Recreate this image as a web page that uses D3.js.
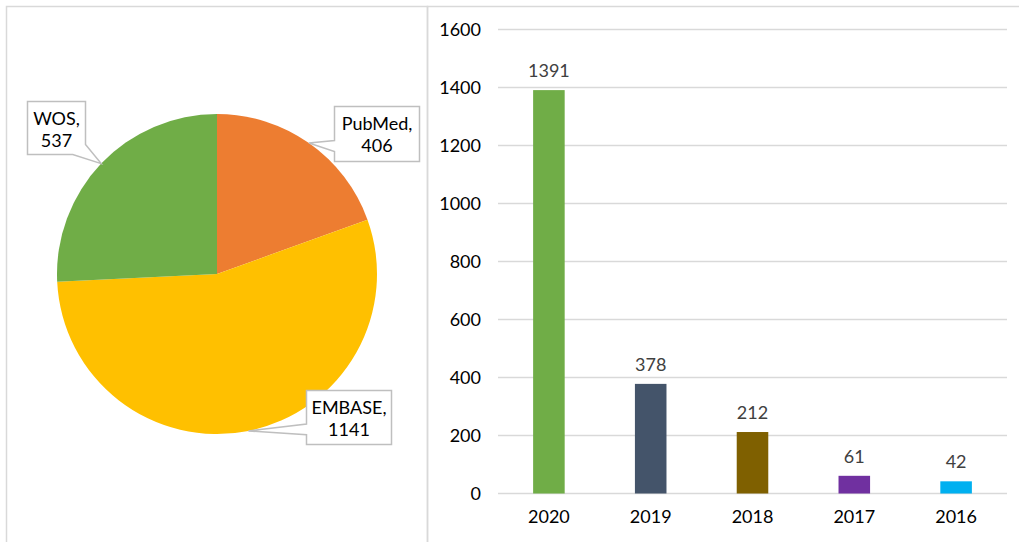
<!DOCTYPE html>
<html>
<head>
<meta charset="utf-8">
<script src="https://cdn.jsdelivr.net/npm/d3@7"></script>
<style>
	body { margin: 0; background: #fff; }
	svg { display: block; font-family: Lato, "Open Sans", sans-serif; }
</style>
</head>
<body>
<svg width="1019" height="542"></svg>
<script>
// pie data
var sources = ['PubMed', 'EMBASE', 'WOS'];
var sourceCounts = [406, 1141, 537];
var sourceColors = ['#ED7D31', '#FFC000', '#70AD47'];

// bar data
var years = ['2020', '2019', '2018', '2017', '2016'];
var yearCounts = [1391, 378, 212, 61, 42];
var yearColors = ['#70AD47', '#44546A', '#7F6000', '#7030A0', '#00B0F0'];
var yTicks = [0, 200, 400, 600, 800, 1000, 1200, 1400, 1600];

var svg = d3.select('svg');
var fontSize = 18;

// panel frames
svg.append('rect').attr('x', 6.5).attr('y', 6.5).attr('width', 421).attr('height', 600)
	.attr('fill', 'none').attr('stroke', '#d9d9d9').attr('stroke-width', 1.5);
svg.append('rect').attr('x', 427.5).attr('y', 6.5).attr('width', 620).attr('height', 600)
	.attr('fill', 'none').attr('stroke', '#d9d9d9').attr('stroke-width', 1.5);

// ---- pie ----
var cx = 217, cy = 274, r = 160;
var pieData = sources.map(function(s, i) {
	return {name: s, value: sourceCounts[i], color: sourceColors[i]};
});
var pie = d3.pie().sort(null).value(function(d) { return d.value; });
var arc = d3.arc().innerRadius(0).outerRadius(r);
var arcs = pie(pieData);

var gp = svg.append('g').attr('transform', 'translate(' + cx + ',' + cy + ')');
gp.selectAll('path.slice')
	.data(arcs)
	.enter().append('path')
	.attr('class', 'slice')
	.attr('d', arc)
	.attr('fill', function(d) { return d.data.color; });

// callout boxes (absolute page coords), tail side
var boxes = {
	WOS: {x: 27.5, y: 101.5, w: 58, h: 53, side: 'bottom'},
	PubMed: {x: 334.5, y: 106.5, w: 85, h: 55, side: 'left'},
	EMBASE: {x: 306.5, y: 390.5, w: 85, h: 54, side: 'left'}
};

arcs.forEach(function(a) {
	var b = boxes[a.data.name];
	var mid = (a.startAngle + a.endAngle) / 2;
	var px = cx + Math.sin(mid) * r;
	var py = cy - Math.cos(mid) * r;
	var pts;
	if (b.side === 'left') {
		var t1 = b.y + b.h * 0.62, t2 = b.y + b.h * 0.82;
		pts = [[b.x, b.y], [b.x + b.w, b.y], [b.x + b.w, b.y + b.h], [b.x, b.y + b.h],
			[b.x, t2], [px, py], [b.x, t1]];
	} else {
		var s1 = b.x + b.w * 0.78;
		pts = [[b.x, b.y], [b.x + b.w, b.y], [b.x + b.w, b.y + b.h - 10],
			[px, py], [s1, b.y + b.h], [b.x, b.y + b.h]];
	}
	svg.append('path')
		.attr('d', 'M' + pts.map(function(p) { return p.join(','); }).join('L') + 'Z')
		.attr('fill', '#fff')
		.attr('stroke', '#bfbfbf')
		.attr('stroke-width', 1.5)
		.attr('stroke-linejoin', 'miter');
	var t = svg.append('text')
		.attr('x', b.x + b.w / 2)
		.attr('text-anchor', 'middle')
		.attr('font-size', fontSize)
		.attr('fill', '#000');
	t.append('tspan').attr('x', b.x + b.w / 2).attr('y', b.y + 23).text(a.data.name + ',');
	t.append('tspan').attr('x', b.x + b.w / 2).attr('y', b.y + 45).text(a.data.value);
});

// ---- bars ----
var x = d3.scaleBand()
	.domain(years)
	.range([498, 1007])
	.paddingInner(0.69)
	.paddingOuter(0.345);

var y = d3.scaleLinear()
	.domain([0, 1600])
	.range([493.5, 29.5]);

var gb = svg.append('g');

gb.append('g')
	.selectAll('line')
	.data(yTicks)
	.enter().append('line')
	.attr('x1', 498).attr('x2', 1007)
	.attr('y1', function(d) { return y(d); })
	.attr('y2', function(d) { return y(d); })
	.attr('stroke', '#d9d9d9')
	.attr('stroke-width', 1.5);

var yAxis = gb.append('g')
	.attr('transform', 'translate(481,0)')
	.call(d3.axisLeft(y).tickValues(yTicks).tickFormat(d3.format('d')).tickSize(0).tickPadding(0));
yAxis.select('.domain').remove();
yAxis.selectAll('text')
	.attr('font-size', fontSize)
	.attr('font-family', 'Lato, "Open Sans", sans-serif')
	.attr('fill', '#000');

var xAxis = gb.append('g')
	.attr('transform', 'translate(0,493.5)')
	.call(d3.axisBottom(x).tickSize(0).tickPadding(17));
xAxis.select('.domain').remove();
xAxis.selectAll('text')
	.attr('font-size', fontSize)
	.attr('font-family', 'Lato, "Open Sans", sans-serif')
	.attr('fill', '#000');

gb.selectAll('rect.bar')
	.data(years)
	.enter().append('rect')
	.attr('class', 'bar')
	.attr('x', function(d) { return x(d); })
	.attr('width', x.bandwidth())
	.attr('y', function(d, i) { return y(yearCounts[i]); })
	.attr('height', function(d, i) { return y(0) - y(yearCounts[i]); })
	.attr('fill', function(d, i) { return yearColors[i]; });

gb.selectAll('text.val')
	.data(years)
	.enter().append('text')
	.attr('class', 'val')
	.attr('x', function(d) { return x(d) + x.bandwidth() / 2; })
	.attr('y', function(d, i) { return y(yearCounts[i]) - 13; })
	.attr('text-anchor', 'middle')
	.attr('font-size', fontSize)
	.attr('fill', '#404040')
	.text(function(d, i) { return yearCounts[i]; });
</script>
</body>
</html>
